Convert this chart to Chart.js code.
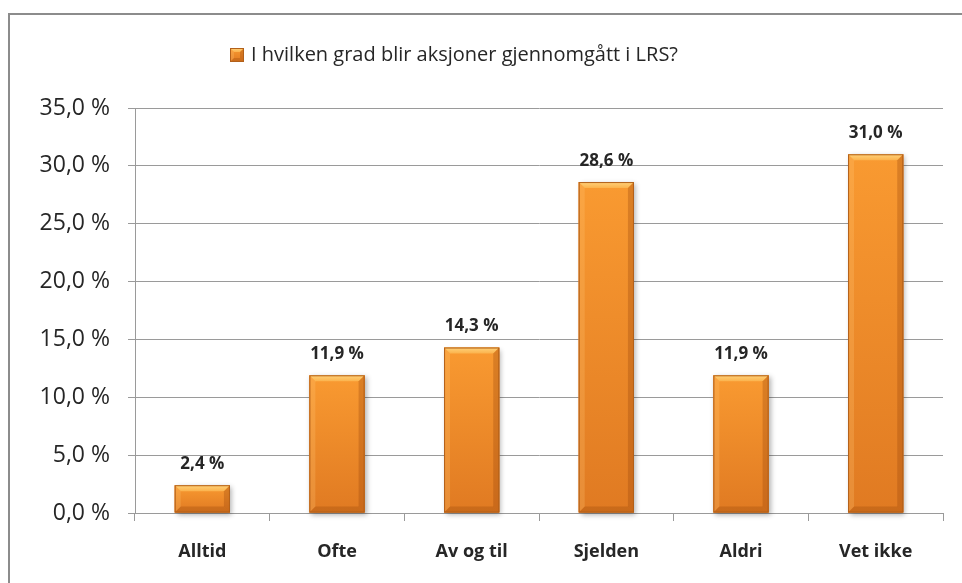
<!DOCTYPE html>
<html>
<head>
<meta charset="utf-8">
<script src="https://cdn.jsdelivr.net/npm/chart.js@4"></script>
<style>
  html, body { margin: 0; padding: 0; background: #fff; }
  #wrap { position: relative; width: 962px; height: 583px; overflow: hidden; }
  #frame { position: absolute; left: 8px; top: 13px; width: 1000px; height: 700px;
           border-top: 2px solid #8c8c8c; border-left: 2px solid #8c8c8c; pointer-events: none; }
  canvas { position: absolute; left: 0; top: 0; }
</style>
</head>
<body>
<div id="wrap">
  <canvas id="chart" width="962" height="583"></canvas>
  <div id="frame"></div>
</div>
<script>
const seriesLabel = 'I hvilken grad blir aksjoner gjennomgått i LRS?';
const categories = ['Alltid', 'Ofte', 'Av og til', 'Sjelden', 'Aldri', 'Vet ikke'];
const values = [2.4, 11.9, 14.3, 28.6, 11.9, 31.0];
const yTicks = [0, 5, 10, 15, 20, 25, 30, 35];

function pct(v) {
    return v.toFixed(1).replace('.', ',') + ' %';
}

function bevelBox(ctx, l, t, w, h, d) {
    const r = l + w, b = t + h;
    const g = ctx.createLinearGradient(0, t, 0, b);
    g.addColorStop(0, '#f99a31');
    g.addColorStop(1, '#e07a22');
    ctx.fillStyle = g;
    ctx.fillRect(l, t, w, h);
    // top bevel
    const gt = ctx.createLinearGradient(0, t, 0, t + d);
    gt.addColorStop(0, '#ffd27a');
    gt.addColorStop(1, '#fbb24c');
    ctx.fillStyle = gt;
    ctx.beginPath();
    ctx.moveTo(l, t); ctx.lineTo(r, t); ctx.lineTo(r - d, t + d); ctx.lineTo(l + d, t + d);
    ctx.closePath(); ctx.fill();
    // left bevel
    ctx.fillStyle = 'rgba(255,200,120,0.25)';
    ctx.beginPath();
    ctx.moveTo(l, t); ctx.lineTo(l + d, t + d); ctx.lineTo(l + d, b - d); ctx.lineTo(l, b);
    ctx.closePath(); ctx.fill();
    // right bevel
    ctx.fillStyle = 'rgba(150,65,10,0.3)';
    ctx.beginPath();
    ctx.moveTo(r, t); ctx.lineTo(r - d, t + d); ctx.lineTo(r - d, b - d); ctx.lineTo(r, b);
    ctx.closePath(); ctx.fill();
    // bottom bevel
    ctx.fillStyle = 'rgba(150,70,10,0.3)';
    ctx.beginPath();
    ctx.moveTo(l, b); ctx.lineTo(r, b); ctx.lineTo(r - d, b - d); ctx.lineTo(l + d, b - d);
    ctx.closePath(); ctx.fill();
    ctx.strokeStyle = '#b2601a';
    ctx.lineWidth = 1;
    ctx.strokeRect(l + 0.5, t + 0.5, w - 1, h - 1);
}

// beveled orange bars + value labels, drawn over the bar elements chart.js laid out
const bevelBars = {
    id: 'bevelBars',
    afterDatasetsDraw(chart) {
        const ctx = chart.ctx;
        chart.getDatasetMeta(0).data.forEach((bar, i) => {
            const l = bar.x - bar.width / 2;
            const t = bar.y;
            const w = bar.width, h = bar.base - bar.y;

            ctx.save();
            ctx.shadowColor = 'rgba(0,0,0,0.3)';
            ctx.shadowBlur = 5;
            ctx.shadowOffsetX = 2;
            ctx.shadowOffsetY = 2;
            ctx.fillStyle = '#e07a22';
            ctx.fillRect(l, t, w, h);
            ctx.restore();

            ctx.save();
            bevelBox(ctx, l, t, w, h, Math.min(6, h / 2.5));
            ctx.restore();

            ctx.save();
            ctx.font = 'bold 17px "Open Sans"';
            ctx.fillStyle = '#262626';
            ctx.textAlign = 'center';
            ctx.textBaseline = 'middle';
            ctx.fillText(pct(values[i]), bar.x, t - 21);
            ctx.restore();
        });
    }
};

// legend entry like the original: small beveled box + series name
const topLegend = {
    id: 'topLegend',
    afterDraw(chart) {
        const ctx = chart.ctx;
        ctx.save();
        bevelBox(ctx, 230, 48, 14, 14, 4);
        ctx.font = '20px "Open Sans"';
        ctx.fillStyle = '#262626';
        ctx.textAlign = 'left';
        ctx.textBaseline = 'middle';
        ctx.fillText(seriesLabel, 251, 55);
        ctx.restore();
    }
};

new Chart(document.getElementById('chart'), {
    type: 'bar',
    data: {
        labels: categories,
        datasets: [{
            label: seriesLabel,
            data: values,
            backgroundColor: '#f28c2c',
            borderWidth: 0,
            categoryPercentage: 1,
            barPercentage: 0.41
        }]
    },
    options: {
        responsive: false,
        animation: false,
        layout: { padding: { top: 108, right: 19, left: 0, bottom: 0 } },
        scales: {
            y: {
                min: 0,
                max: 35,
                afterFit: scale => { scale.width = 135; },
                afterBuildTicks: scale => { scale.ticks = yTicks.map(v => ({ value: v })); },
                ticks: {
                    padding: 18,
                    color: '#262626',
                    font: { family: 'Open Sans', size: 23 },
                    callback: v => pct(v)
                },
                grid: { color: '#9a9a9a', tickLength: 7, lineWidth: 1 },
                border: { color: '#9a9a9a' }
            },
            x: {
                afterFit: scale => { scale.height = 70; },
                ticks: {
                    padding: 20,
                    color: '#262626',
                    font: { family: 'Open Sans', size: 18, weight: 'bold' }
                },
                grid: { offset: true, drawOnChartArea: false, color: '#9a9a9a', tickLength: 8 },
                border: { color: '#9a9a9a' }
            }
        },
        plugins: {
            legend: { display: false },
            tooltip: { enabled: false }
        }
    },
    plugins: [bevelBars, topLegend]
});
</script>
</body>
</html>
